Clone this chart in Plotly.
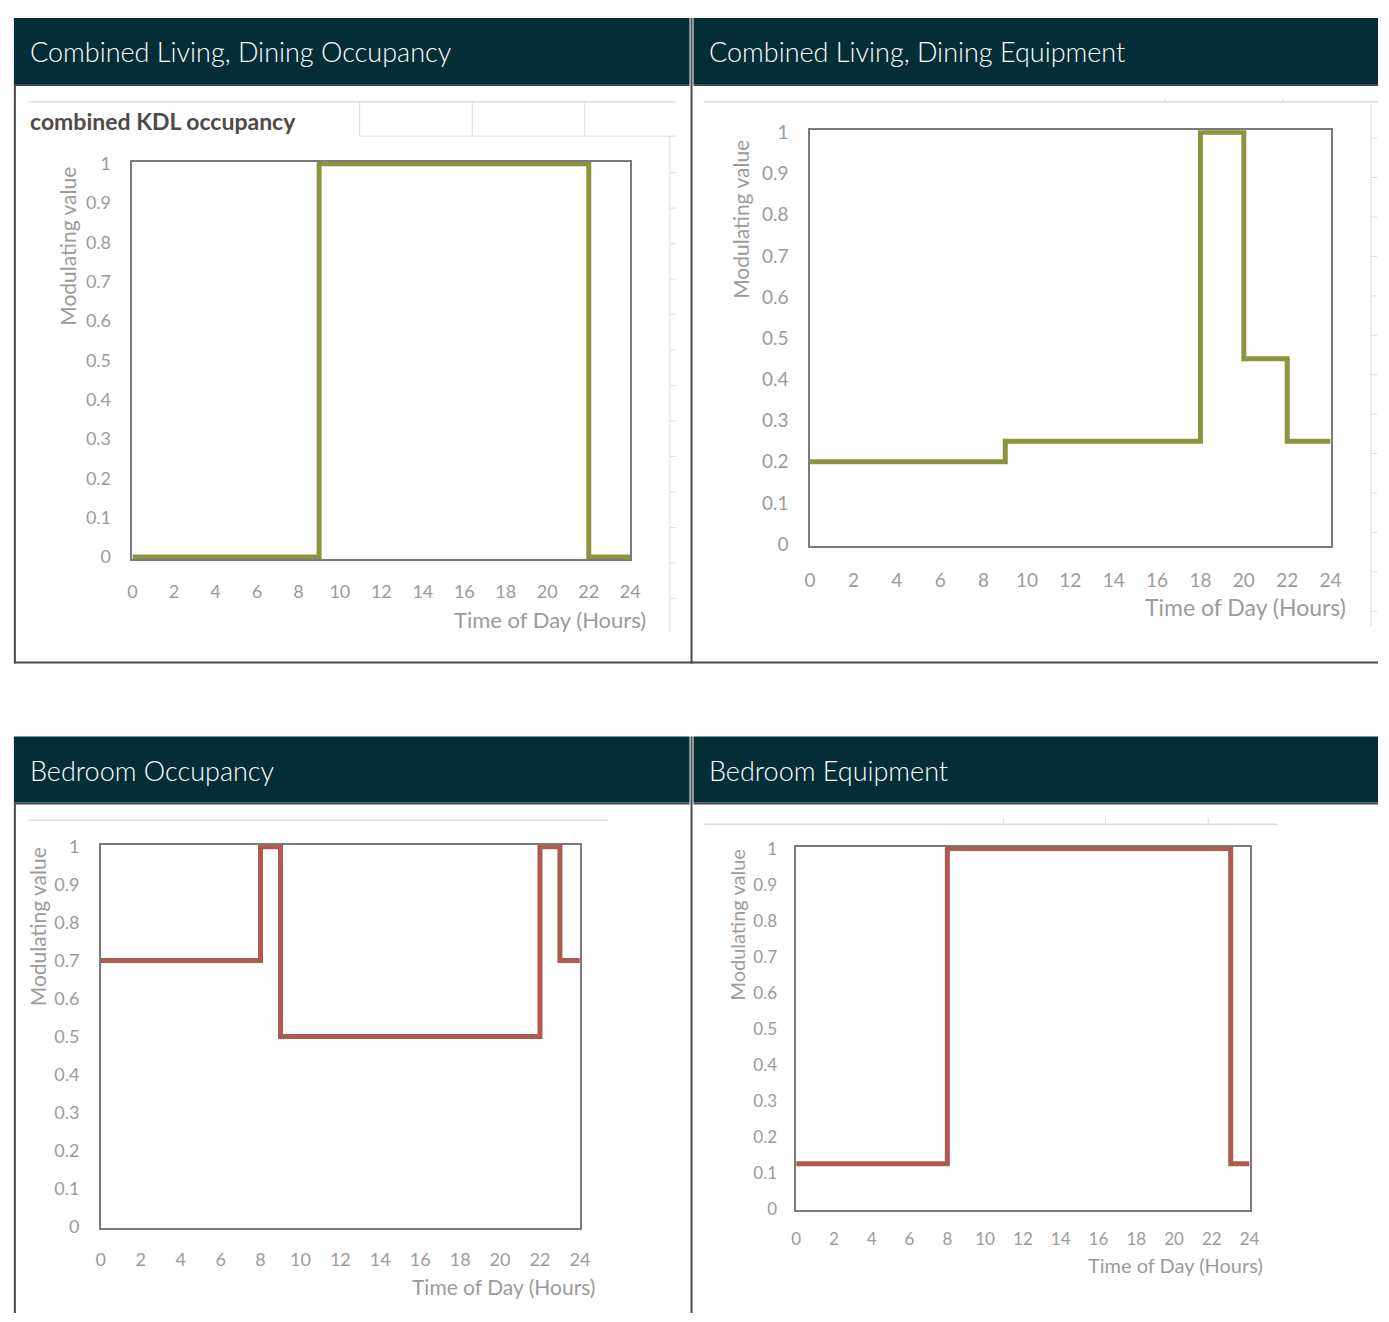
import plotly.graph_objects as go

W, H = 1389, 1322

# ---- schedule data (hour at which each value starts) ----
hours_kdl_occ = [0, 9, 22, 24]
kdl_occ = [0, 1, 0, 0]

hours_kdl_equip = [0, 9, 18, 20, 22, 24]
kdl_equip = [0.2, 0.25, 1, 0.45, 0.25, 0.25]

hours_bed_occ = [0, 8, 9, 22, 23, 24]
bed_occ = [0.7, 1, 0.5, 1, 0.7, 0.7]

hours_bed_equip = [0, 8, 23, 24]
bed_equip = [0.125, 1, 0.125, 0.125]

x_ticks = list(range(0, 25, 2))
y_ticks = [0, 0.1, 0.2, 0.3, 0.4, 0.5, 0.6, 0.7, 0.8, 0.9, 1]
y_tick_text = ["0", "0.1", "0.2", "0.3", "0.4", "0.5", "0.6", "0.7", "0.8", "0.9", "1"]

panel_titles = ["Combined Living, Dining Occupancy", "Combined Living, Dining Equipment",
                "Bedroom Occupancy", "Bedroom Equipment"]
chart_title_kdl = "combined KDL occupancy"
y_title = "Modulating value"
x_title = "Time of Day (Hours)"

OLIVE = "#8e9340"
BRICK = "#ad5b4e"
HEADER = "#032d37"
FRAME = "#4a4a4a"
FAINT = "#dcdcdc"
LABEL = "#9b9b9b"
FONT = "Lato"


def fx(px):
    return px / W


def fy(py):
    return 1 - py / H


# plot-area boxes in pixels: (left, top, right, bottom), plus label sizing
panels = [
    dict(box=(128, 154, 632, 557), hours=hours_kdl_occ, vals=kdl_occ, color=OLIVE,
         ytitle=(62, 240), xtitle=(650, 618), fs=18, yfs=21, xfs=22, ysd=16, xsd=16),
    dict(box=(814, 122, 1341, 544), hours=hours_kdl_equip, vals=kdl_equip, color=OLIVE,
         ytitle=(744, 212), xtitle=(1359, 606), fs=19, yfs=21, xfs=23, ysd=16, xsd=16),
    dict(box=(96, 847, 581, 1236), hours=hours_bed_occ, vals=bed_occ, color=BRICK,
         ytitle=(32, 930), xtitle=(598, 1295), fs=18, yfs=21, xfs=21, ysd=16, xsd=14),
    dict(box=(800, 849, 1259, 1218), hours=hours_bed_equip, vals=bed_equip, color=BRICK,
         ytitle=(740, 928), xtitle=(1275, 1273), fs=17, yfs=20, xfs=20, ysd=14, xsd=12),
]

fig = go.Figure()
annotations = []
shapes = []

for i, p in enumerate(panels, start=1):
    l, t, r, b = p["box"]
    xa = "x" if i == 1 else f"x{i}"
    ya = "y" if i == 1 else f"y{i}"
    fig.add_trace(go.Scatter(
        x=p["hours"], y=p["vals"], mode="lines", line_shape="hv",
        line=dict(color=p["color"], width=5), xaxis=xa, yaxis=ya,
        showlegend=False, hoverinfo="skip",
    ))
    axis_common = dict(showgrid=False, zeroline=False, showline=True, mirror=True,
                       linecolor="#7a7a7a", linewidth=1.6, layer="below traces",
                       tickfont=dict(family=FONT, size=p["fs"], color=LABEL),
                       ticks="", fixedrange=True)
    ypad = 0.005
    fig.update_layout(**{
        ("xaxis" if i == 1 else f"xaxis{i}"): dict(
            domain=[fx(l), fx(r)], range=[0, 24], anchor=ya,
            tickvals=x_ticks, ticktext=[str(v) for v in x_ticks],
            ticklabelstandoff=p["xsd"], **axis_common),
        ("yaxis" if i == 1 else f"yaxis{i}"): dict(
            domain=[fy(b), fy(t)], range=[-ypad, 1 + ypad], anchor=xa,
            tickvals=y_ticks, ticktext=y_tick_text,
            ticklabelstandoff=p["ysd"], **axis_common),
    })
    tx, ty = p["ytitle"]
    annotations.append(dict(text=y_title, x=fx(tx), y=fy(ty), xref="paper", yref="paper",
                            textangle=-90, showarrow=False, xanchor="center", yanchor="middle",
                            font=dict(family=FONT, size=p["yfs"], color=LABEL)))
    tx, ty = p["xtitle"]
    annotations.append(dict(text=x_title, x=fx(tx), y=fy(ty), xref="paper", yref="paper",
                            showarrow=False, xanchor="right", yanchor="middle",
                            font=dict(family=FONT, size=p["xfs"], color=LABEL)))

# ---- panel headers and frames ----
header_rows = [(8, 75), (737, 804)]
cols = [(8, 692), (696, 1389)]
k = 0
for (hy0, hy1) in header_rows:
    for (cx0, cx1) in cols:
        shapes.append(dict(type="rect", xref="paper", yref="paper",
                           x0=fx(cx0), x1=fx(cx1), y0=fy(hy1), y1=fy(hy0),
                           fillcolor=HEADER, line=dict(width=0), layer="below"))
        annotations.append(dict(text=panel_titles[k], x=fx(cx0 + 14), y=fy((hy0 + hy1) / 2 + 1),
                                xref="paper", yref="paper", showarrow=False,
                                xanchor="left", yanchor="middle",
                                font=dict(family=FONT, size=27, color="white", weight=300)))
        k += 1
        # line under header
        shapes.append(dict(type="line", xref="paper", yref="paper",
                           x0=fx(cx0), x1=fx(cx1), y0=fy(hy1 + 1), y1=fy(hy1 + 1),
                           line=dict(color=FRAME, width=2)))


def vline(x, y0, y1, color=FRAME, width=2):
    shapes.append(dict(type="line", xref="paper", yref="paper", x0=fx(x), x1=fx(x),
                       y0=fy(y0), y1=fy(y1), line=dict(color=color, width=width)))


def hline(y, x0, x1, color=FRAME, width=2):
    shapes.append(dict(type="line", xref="paper", yref="paper", x0=fx(x0), x1=fx(x1),
                       y0=fy(y), y1=fy(y), line=dict(color=color, width=width)))


# outer frames of the panel bodies
vline(9, 75, 663)
vline(694, 8, 663)
hline(662, 8, 1389)
vline(9, 804, 1322)
vline(694, 737, 1322)

# leftover worksheet cell borders around the embedded charts
hline(93, 22, 678, FAINT, 1.5)
for gx in (358, 472, 586):
    vline(gx, 93, 128, FAINT, 1)
hline(128, 358, 678, FAINT, 1)
vline(672, 128, 632, FAINT, 1)
for gy in range(165, 632, 36):
    hline(gy, 672, 678, FAINT, 1)

hline(93, 707, 1389, FAINT, 1.5)
for gx in (1173, 1293):
    vline(gx, 89, 93, FAINT, 1)
vline(1382, 96, 625, FAINT, 1)
for gy in range(130, 625, 40):
    hline(gy, 1382, 1388, FAINT, 1)

hline(822, 22, 609, FAINT, 1.5)

hline(826, 707, 1287, FAINT, 1.5)
for gx in (1010, 1113, 1217):
    vline(gx, 820, 826, FAINT, 1)

# embedded chart title of the first panel
annotations.append(dict(text="<b>" + chart_title_kdl + "</b>", x=fx(22), y=fy(113),
                        xref="paper", yref="paper", showarrow=False,
                        xanchor="left", yanchor="middle",
                        font=dict(family=FONT, size=23, color="#4d4a48")))

fig.update_layout(width=W, height=H, margin=dict(l=0, r=0, t=0, b=0),
                  paper_bgcolor="white", plot_bgcolor="white",
                  annotations=annotations, shapes=shapes, showlegend=False)

fig.write_html("out.html")
